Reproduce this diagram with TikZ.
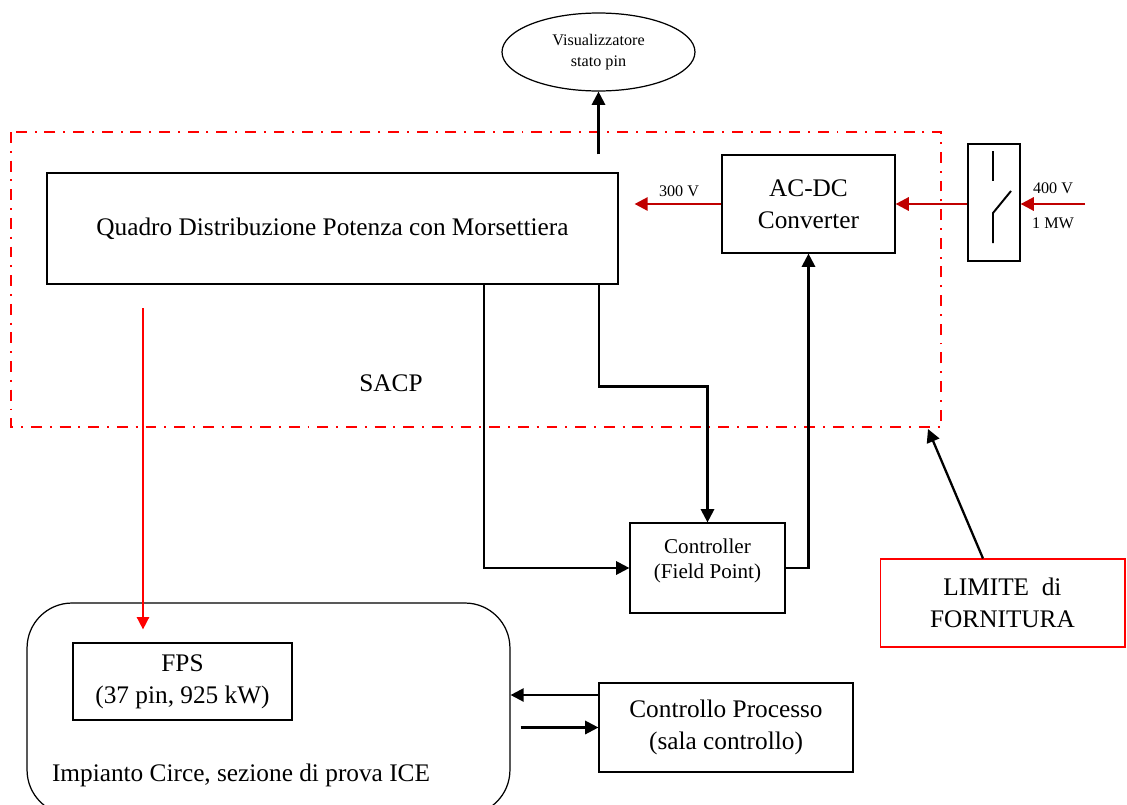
\documentclass[tikz,border=0pt]{standalone}
\usepackage{fontspec}
\setmainfont{Liberation Serif}
\usetikzlibrary{arrows.meta,shapes.geometric}

\definecolor{powerred}{RGB}{192,0,0}
\definecolor{limitred}{RGB}{255,0,0}

\newcommand*{\bigtext}{\fontsize{14.4}{18}\selectfont}
\newcommand*{\smalltext}{\fontsize{9.2}{12}\selectfont}
\newcommand*{\midtext}{\fontsize{12}{14.7}\selectfont}

\tikzset{
    boxnode/.style={draw,line width=0.7pt,inner sep=0pt,align=center},
    arr/.style={line width=1.3pt,-{Triangle[length=7.5pt,width=7.5pt]}},
    powerarr/.style={powerred,line width=1.4pt,-{Triangle[length=7.5pt,width=7.5pt]}},
    feedarr/.style={limitred,line width=0.9pt,-{Triangle[length=7pt,width=7pt]}},
    limitline/.style={limitred,line width=1.4pt,dash pattern=on 6.2pt off 4.5pt on 1.1pt off 4.5pt},
}

\begin{document}
\begin{tikzpicture}[x=0.02cm,y=-0.02cm]
    \useasboundingbox (0,0) rectangle (1127,805);

%   limite SACP
    \draw [limitline] (11,132) rectangle (941,427);

    \node [boxnode,ellipse,font=\smalltext,minimum width=3.86cm,minimum height=1.56cm] (visual) at (598.5,52)
        {Visualizzatore\\stato pin};
    \node [boxnode,font=\bigtext,minimum width=11.42cm,minimum height=2.22cm] (quadro) at (332.5,228.5)
        {Quadro Distribuzione Potenza con Morsettiera};
    \node [boxnode,font=\bigtext,minimum width=3.46cm,minimum height=1.96cm] (acdc) at (808.5,204)
        {AC-DC\\Converter};
    \node [boxnode,minimum width=1.04cm,minimum height=2.34cm] (sw) at (994,202.5) {};
    \node [boxnode,font=\midtext,minimum width=3.1cm,minimum height=1.8cm] (ctrl) at (707.5,568)
        {Controller\\(Field Point)\\[-4pt]~};
    \node [boxnode,font=\bigtext,draw=limitred,line width=0.6pt,minimum width=4.9cm,minimum height=1.76cm] (limite) at (1002.5,603)
        {LIMITE~ di\\FORNITURA};
    \node [boxnode,rounded corners=0.9cm,minimum width=9.66cm,minimum height=4.24cm] (impianto) at (268.5,709) {};
    \node [boxnode,font=\bigtext,minimum width=4.38cm,minimum height=1.54cm] (fps) at (182.5,681.5)
        {FPS\\(37 pin, 925 kW)};
    \node [boxnode,font=\bigtext,minimum width=5.08cm,minimum height=1.78cm] (processo) at (726,727.5)
        {Controllo Processo\\(sala controllo)};

    \node [font=\bigtext] (sacp) at (391,383) {SACP};
    \node [font=\bigtext] (impiantolabel) at (241,775) {Impianto Circe, sezione di prova ICE};
    \node [font=\smalltext] (v300) at (679,191) {300 V};
    \node [font=\smalltext] (v400) at (1053,188) {400 V};
    \node [font=\smalltext] (mw1) at (1053,223) {1 MW};

%   interruttore
    \draw [line width=1.1pt] (993,151) -- (993,181);
    \draw [line width=1.1pt] (993,243) -- (993,213) -- (1011,191);

    \coordinate (supply) at (1085,204);
    \coordinate (corner) at (928,429);
    \coordinate (feed) at (143,308);

    \draw [powerarr] (supply) -- (supply -| sw.east);
    \draw [powerarr] (sw.west |- acdc.east) -- (acdc.east);
    \draw [powerarr] (acdc.west) -- ([xshift=0.32cm]quadro.east |- acdc.west);
    \draw [feedarr] (feed) -- ([yshift=0.26cm]fps.north -| feed);

    \draw [arr] ([yshift=0.36cm]quadro.north -| visual.south) -- (visual.south);
    \draw [arr] ([xshift=3.03cm]quadro.south) |- (ctrl.west);
    \draw [arr] ([xshift=5.33cm]quadro.south) -- ++(0,102) -| (ctrl.north);
    \draw [arr] (ctrl.east) -| (acdc.south);
    \draw [arr] ([xshift=-0.39cm]limite.north) -- (corner);
    \draw [arr] ([yshift=0.65cm]processo.west) -- ([yshift=0.65cm]processo.west -| impianto.east);
    \draw [arr] ([xshift=0.2cm]processo.west -| impianto.east) -- (processo.west);

\end{tikzpicture}
\end{document}
